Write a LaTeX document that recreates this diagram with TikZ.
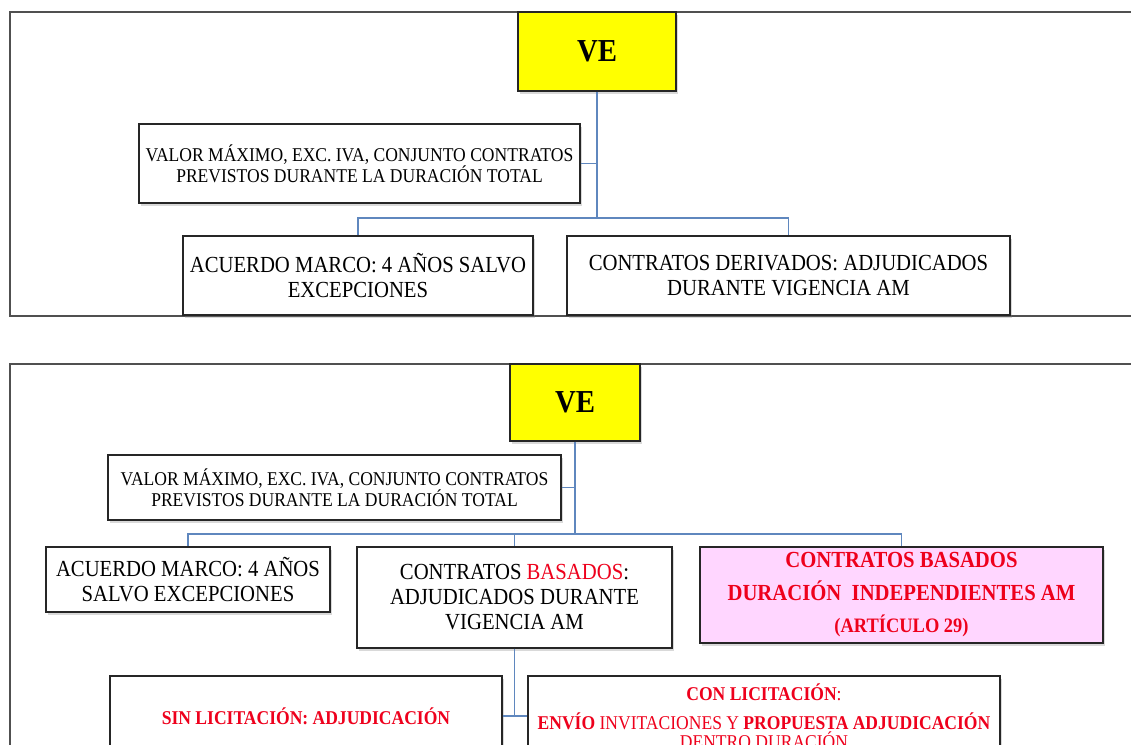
\documentclass[tikz,border=0pt]{standalone}
\usepackage{fontspec}
\setmainfont{Liberation Serif}
\newfontfamily\boxfont[FakeStretch=0.9]{Liberation Serif}
\usetikzlibrary{shadows}
\definecolor{ramablue}{RGB}{95,135,190}
\definecolor{veyellow}{RGB}{255,255,0}
\definecolor{rojo}{RGB}{238,0,28}
\definecolor{rosa}{RGB}{255,214,255}
\definecolor{marco}{RGB}{80,80,80}
\newcommand{\rj}[1]{\textcolor{rojo}{#1}}

\tikzset{
  caja/.style={draw=black!85, line width=1.4pt, fill=white, align=center, inner sep=2pt,
    drop shadow={shadow xshift=1.5pt, shadow yshift=-2.5pt, opacity=0.3}},
  grande/.style={caja, font=\boxfont\fontsize{23}{25}\selectfont},
  chica/.style={caja, font=\boxfont\fontsize{19.5}{19}\selectfont},
  vebox/.style={caja, fill=veyellow, font=\boxfont\bfseries\fontsize{32}{36}\selectfont},
  rama/.style={draw=ramablue, line width=1.8pt},
  panel/.style={draw=marco, line width=1.5pt}
}

\begin{document}
\begin{tikzpicture}[x=1pt, y=-1pt]
  \useasboundingbox (0,0) rectangle (1131,744);

  \draw[panel] (10,12) rectangle (1150,316);
  \draw[panel] (10,364) rectangle (1150,770);

  \node[vebox, minimum width=158pt, minimum height=79pt] (ve1) at (597,51.5) {VE};
  \node[chica, minimum width=441pt, minimum height=79pt] (val1) at (359.5,163.5)
    {VALOR MÁXIMO, EXC. IVA, CONJUNTO CONTRATOS\\PREVISTOS DURANTE LA DURACIÓN TOTAL};
  \node[grande, minimum width=350pt, minimum height=79pt] (am1) at (358,275.5)
    {ACUERDO MARCO: 4 AÑOS SALVO\\EXCEPCIONES};
  \node[grande, minimum width=443pt, minimum height=79pt] (cd1) at (788.5,275.5)
    {CONTRATOS DERIVADOS: ADJUDICADOS\\DURANTE VIGENCIA AM};

  \coordinate (bus1) at (597,218);
  \draw[rama] (ve1.south) -- (bus1);
  \draw[rama] (val1.east) -- (val1.east -| ve1.south);
  \draw[rama] (bus1) -| (am1.north);
  \draw[rama] (bus1) -| (cd1.north);

  \node[vebox, minimum width=130pt, minimum height=77pt] (ve2) at (575,402.5) {VE};
  \node[chica, minimum width=453pt, minimum height=65pt] (val2) at (334.5,487.5)
    {VALOR MÁXIMO, EXC. IVA, CONJUNTO CONTRATOS\\PREVISTOS DURANTE LA DURACIÓN TOTAL};
  \node[grande, minimum width=284pt, minimum height=65pt] (am2) at (188,579.5)
    {ACUERDO MARCO: 4 AÑOS\\SALVO EXCEPCIONES};
  \node[grande, minimum width=315pt, minimum height=101pt] (cb2) at (514.5,597.5)
    {CONTRATOS \rj{BASADOS}:\\ADJUDICADOS DURANTE\\VIGENCIA AM};
  \node[grande, fill=rosa, text=rojo, minimum width=403pt, minimum height=96pt] (art29) at (901.5,595)
    {\bfseries CONTRATOS BASADOS\\[8pt]\bfseries DURACIÓN\ \ INDEPENDIENTES AM\\[7pt]
     \bfseries\fontsize{20.5}{22}\selectfont (ARTÍCULO 29)};
  \node[chica, font=\boxfont\bfseries\fontsize{19.5}{19}\selectfont, text=rojo,
    minimum width=392pt, minimum height=80pt] (sin) at (306,716)
    {SIN LICITACIÓN: ADJUDICACIÓN};
  \node[chica, font=\boxfont\fontsize{19.5}{19}\selectfont, text=rojo,
    minimum width=472pt, minimum height=80pt] (con) at (764,716)
    {\textbf{CON LICITACIÓN}:\\[10pt]\textbf{ENVÍO} INVITACIONES Y \textbf{PROPUESTA ADJUDICACIÓN}\\DENTRO DURACIÓN};

  \coordinate (bus2) at (575,534);
  \draw[rama] (ve2.south) -- (bus2);
  \draw[rama] (val2.east) -- (val2.east -| ve2.south);
  \draw[rama] (bus2) -| (am2.north);
  \draw[rama] (bus2) -| (cb2.north);
  \draw[rama] (bus2) -| (art29.north);
  \draw[rama] (cb2.south) -- (cb2.south |- sin.east);
  \draw[rama] (sin.east) -- (con.west);
\end{tikzpicture}
\end{document}
